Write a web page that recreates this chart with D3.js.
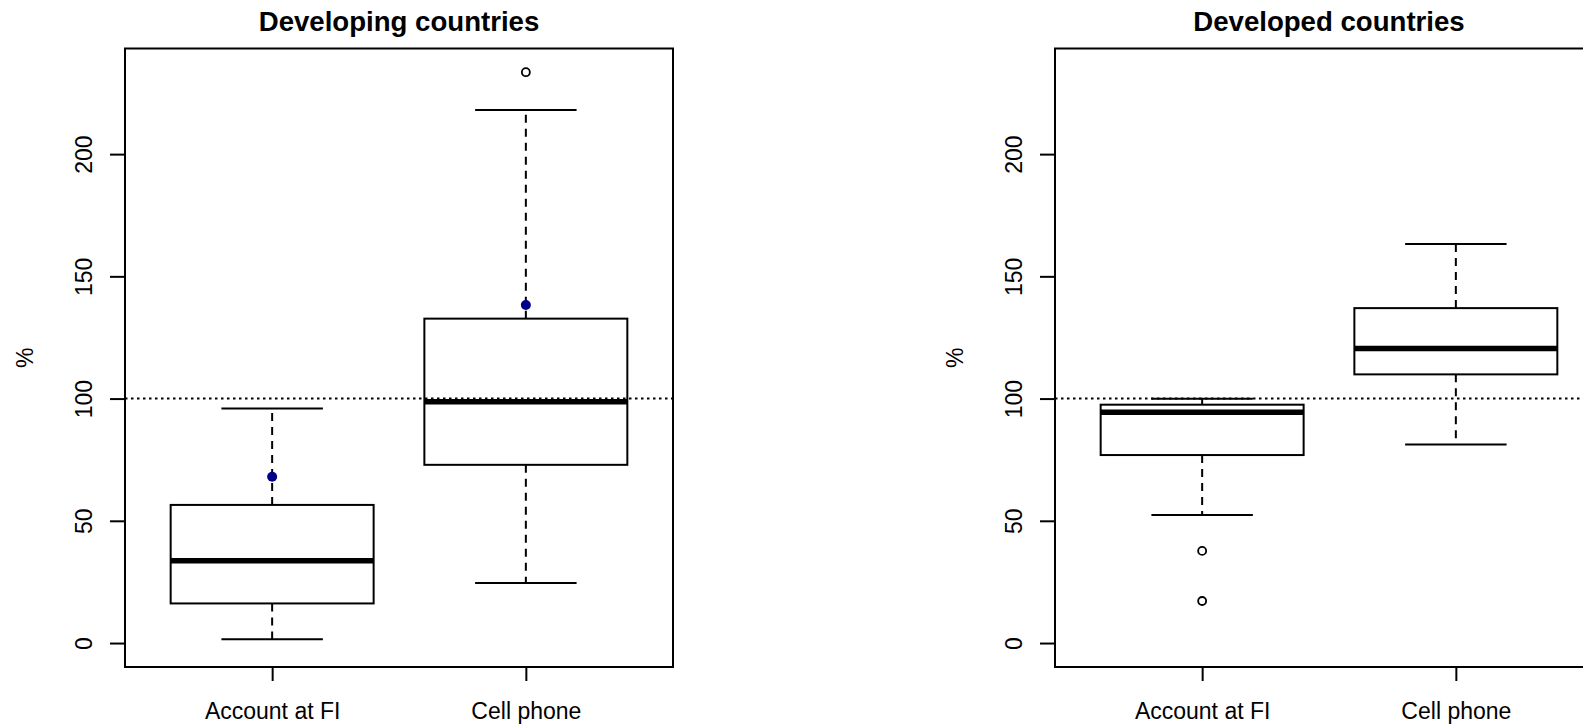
<!DOCTYPE html>
<html>

<head>
    <title>Account at FI vs Cell phone</title>
    <meta charset="UTF-8">
    <script src="https://d3js.org/d3.v7.min.js"></script>
    <style type="text/css">
        body { margin: 0; background: #fff; }
        svg { display: block; font-family: "Liberation Sans", Arial, sans-serif; }
    </style>
</head>

<body>
    <script type="text/javascript">
        // Values (percent)
        var categories = ["Account at FI", "Cell phone"];
        var panelTitles = ["Developing countries", "Developed countries"];
        var yTicks = [0, 50, 100, 150, 200];
        var refLine = 100;

        // five-number summaries: [lower whisker, Q1, median, Q3, upper whisker]
        var developingStats = [[1.6, 16.2, 33.7, 56.5, 95.9], [24.6, 72.9, 98.7, 132.7, 218.0]];
        var developedStats = [[52.4, 76.9, 94.4, 97.5, 99.9], [81.2, 109.9, 120.5, 137.0, 163.2]];

        // outliers per category (open circles)
        var developingOutliers = [[], [233.5]];
        var developedOutliers = [[37.7, 17.2], []];

        // highlighted countries per category (filled blue dots)
        var developingHighlight = [[68.0], [138.3]];
        var developedHighlight = [[], []];

        var panels = [
            { title: panelTitles[0], stats: developingStats, out: developingOutliers, hi: developingHighlight, left: 125 },
            { title: panelTitles[1], stats: developedStats, out: developedOutliers, hi: developedHighlight, left: 1055 }
        ];

        var W = 1583, H = 727;
        var plotW = 548, plotTop = 48.5, plotBottom = 667;

        var svg = d3.select("body").append("svg")
            .attr("width", W)
            .attr("height", H);

        var y = d3.scaleLinear().domain([-9.8, 243.2]).range([plotBottom, plotTop]);

        panels.forEach(function (p) {
            var x = d3.scaleLinear().domain([0.42, 2.58]).range([p.left, p.left + plotW]);
            var g = svg.append("g");

            // boxes and whiskers
            p.stats.forEach(function (s, i) {
                var cx = x(i + 1);
                var bx0 = x(i + 1 - 0.4), bx1 = x(i + 1 + 0.4);
                var cx0 = x(i + 1 - 0.2), cx1 = x(i + 1 + 0.2);

                // whiskers (dashed)
                g.append("line").attr("x1", cx).attr("x2", cx)
                    .attr("y1", y(s[1])).attr("y2", y(s[0]))
                    .attr("stroke", "#000").attr("stroke-width", 2).attr("stroke-dasharray", "8,6");
                g.append("line").attr("x1", cx).attr("x2", cx)
                    .attr("y1", y(s[3])).attr("y2", y(s[4]))
                    .attr("stroke", "#000").attr("stroke-width", 2).attr("stroke-dasharray", "8,6");

                // caps
                [s[0], s[4]].forEach(function (v) {
                    g.append("line").attr("x1", cx0).attr("x2", cx1)
                        .attr("y1", y(v)).attr("y2", y(v))
                        .attr("stroke", "#000").attr("stroke-width", 2);
                });

                // box
                g.append("rect")
                    .attr("x", bx0).attr("y", y(s[3]))
                    .attr("width", bx1 - bx0).attr("height", y(s[1]) - y(s[3]))
                    .attr("fill", "none").attr("stroke", "#000").attr("stroke-width", 2);

                // median
                g.append("line").attr("x1", bx0).attr("x2", bx1)
                    .attr("y1", y(s[2])).attr("y2", y(s[2]))
                    .attr("stroke", "#000").attr("stroke-width", 5.5);

                // outliers
                p.out[i].forEach(function (v) {
                    g.append("circle").attr("cx", cx).attr("cy", y(v)).attr("r", 4)
                        .attr("fill", "none").attr("stroke", "#000").attr("stroke-width", 1.8);
                });

                // highlighted points
                p.hi[i].forEach(function (v) {
                    g.append("circle").attr("cx", cx).attr("cy", y(v)).attr("r", 5)
                        .attr("fill", "#00008B");
                });
            });

            // reference line at 100%
            g.append("line")
                .attr("x1", p.left).attr("x2", p.left + plotW)
                .attr("y1", y(refLine)).attr("y2", y(refLine))
                .attr("stroke", "#000").attr("stroke-width", 2).attr("stroke-dasharray", "2.5,3.5");

            // frame
            g.append("rect")
                .attr("x", p.left).attr("y", plotTop)
                .attr("width", plotW).attr("height", plotBottom - plotTop)
                .attr("fill", "none").attr("stroke", "#000").attr("stroke-width", 2);

            // y axis
            var yAxis = g.append("g")
                .attr("transform", "translate(" + p.left + ",0)")
                .call(d3.axisLeft(y).tickValues(yTicks).tickSize(15).tickFormat(d3.format("d")));
            yAxis.select(".domain").remove();
            yAxis.selectAll("line").attr("stroke", "#000").attr("stroke-width", 2);
            yAxis.selectAll("text")
                .attr("transform", "rotate(-90)")
                .attr("x", 0).attr("y", -33).attr("dy", 0)
                .attr("text-anchor", "middle")
                .style("font-size", "23px")
                .attr("fill", "#000")
                .style("font-family", "'Liberation Sans', Arial, sans-serif");

            // x axis
            var xAxis = g.append("g")
                .attr("transform", "translate(0," + plotBottom + ")")
                .call(d3.axisBottom(x).tickValues([1, 2]).tickSize(14)
                    .tickFormat(function (d) { return categories[d - 1]; }));
            xAxis.select(".domain").remove();
            xAxis.selectAll("line").attr("stroke", "#000").attr("stroke-width", 2);
            xAxis.selectAll("text")
                .attr("y", 52).attr("dy", 0)
                .style("font-size", "23px")
                .attr("fill", "#000")
                .style("font-family", "'Liberation Sans', Arial, sans-serif");

            // y label
            g.append("text")
                .attr("transform", "translate(" + (p.left - 92) + "," + ((plotTop + plotBottom) / 2) + ") rotate(-90)")
                .attr("text-anchor", "middle")
                .style("font-size", "23px")
                .text("%");

            // title
            g.append("text")
                .attr("x", p.left + plotW / 2)
                .attr("y", 31)
                .attr("text-anchor", "middle")
                .style("font-size", "27.6px")
                .style("font-weight", "bold")
                .text(p.title);
        });
    </script>
</body>

</html>
